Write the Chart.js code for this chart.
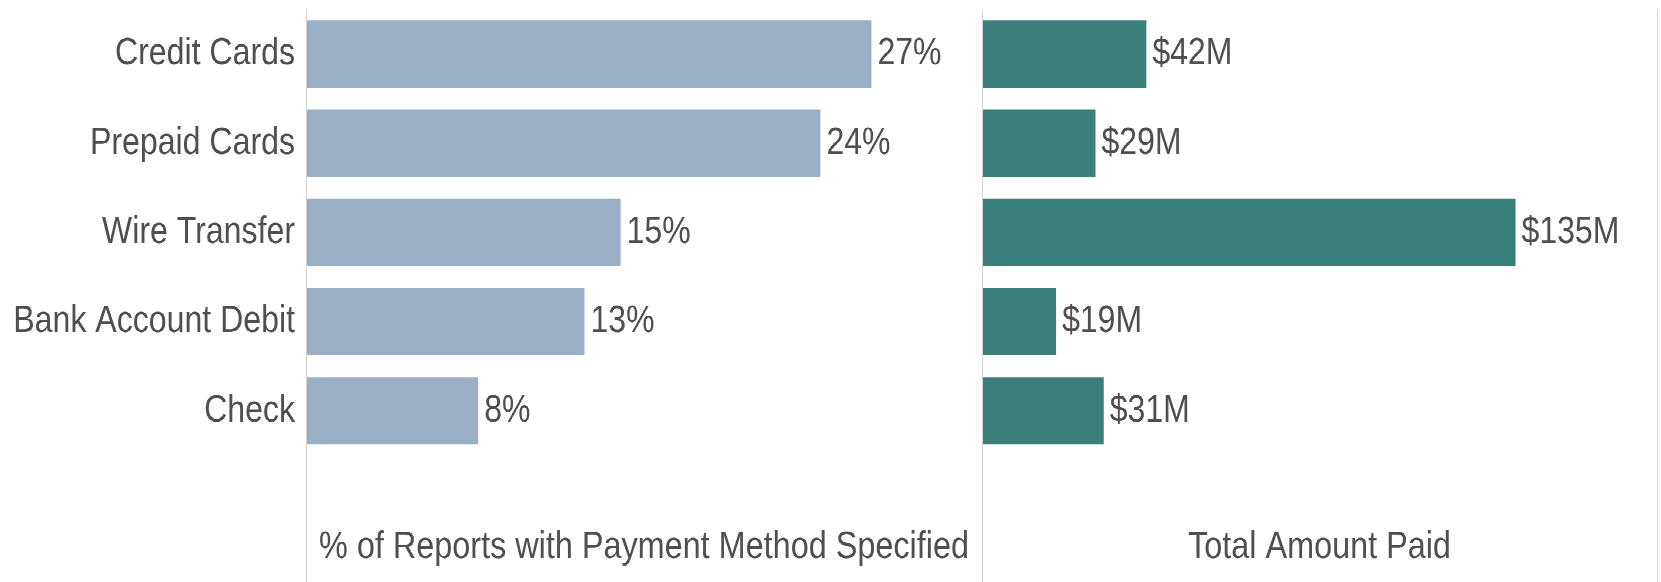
<!DOCTYPE html>
<html>
<head>
<meta charset="utf-8">
<script src="https://cdn.jsdelivr.net/npm/chart.js@4.4.1/dist/chart.umd.min.js"></script>
<style>
  html { overflow: hidden; }
  html, body { margin: 0; padding: 0; background: #fff; }
  body { width: 1661px; height: 582px; }
  /* the source picture is stretched vertically, so the whole stage is too */
  #stage { position: relative; width: 1661px; height: 497px; transform: scaleY(1.171); transform-origin: 0 0; }
  #boxA { position: absolute; left: 0; top: 0; width: 982px; height: 497px; }
  #boxB { position: absolute; left: 982px; top: 0; width: 679px; height: 497px; }
</style>
</head>
<body>
<div id="stage">
  <div id="boxA"><canvas id="chartA"></canvas></div>
  <div id="boxB"><canvas id="chartB"></canvas></div>
</div>
<script>
const methods = ["Credit Cards", "Prepaid Cards", "Wire Transfer", "Bank Account Debit", "Check"];
const pctReports = [26.6, 24.2, 14.8, 13.1, 8.1];    // % of reports
const amountPaid = [41.7, 28.8, 135.4, 18.8, 30.9];  // $ millions
const pctMax = 31.8;
const amountMax = 171.3;

const FONT = "'Liberation Sans', Arial, sans-serif";
const TEXT = "#4f4f4f";
const LINE = "#d4d4d4";

// value labels at the end of each bar
function barLabels(fmt) {
  return {
    id: "barLabels",
    afterDatasetsDraw(chart) {
      const ctx = chart.ctx;
      const meta = chart.getDatasetMeta(0);
      const vals = chart.data.datasets[0].data;
      ctx.save();
      ctx.font = "32px " + FONT;
      ctx.fillStyle = TEXT;
      ctx.textAlign = "left";
      ctx.textBaseline = "middle";
      meta.data.forEach((bar, i) => {
        ctx.fillText(fmt(vals[i]), bar.x + 6, bar.y);
      });
      ctx.restore();
    }
  };
}

// thin panel dividers running down to the bottom of the canvas
function panelLines(edges) {
  return {
    id: "panelLines",
    afterDatasetsDraw(chart) {
      const { ctx, chartArea } = chart;
      ctx.save();
      ctx.strokeStyle = LINE;
      ctx.lineWidth = 1;
      edges.forEach(e => {
        const x = Math.round(chartArea[e]) + 0.5;
        ctx.beginPath();
        ctx.moveTo(x, chartArea.top);
        ctx.lineTo(x, chart.height);
        ctx.stroke();
      });
      ctx.restore();
    }
  };
}

function xAxis(max, title) {
  return {
    min: 0,
    max: max,
    ticks: { display: false },
    grid: { display: false, drawTicks: false },
    border: { display: false },
    title: {
      display: true,
      text: title,
      color: TEXT,
      font: { family: FONT, size: 32.4, lineHeight: 1.2 },
      padding: { top: 0, bottom: 9.8 }
    },
    afterFit(s) { s.height = 108; }
  };
}

const common = {
  indexAxis: "y",
  responsive: true,
  maintainAspectRatio: false,
  animation: false,
  devicePixelRatio: 2,
  plugins: { legend: { display: false }, tooltip: { enabled: false } }
};

new Chart(document.getElementById("chartA"), {
  type: "bar",
  data: {
    labels: methods,
    datasets: [{
      data: pctReports,
      backgroundColor: "#98afc5",
      categoryPercentage: 1,
      barPercentage: 0.755
    }]
  },
  options: {
    ...common,
    layout: { padding: { top: 8.3, left: 0, right: 0, bottom: 0 } },
    scales: {
      x: xAxis(pctMax, "% of Reports with Payment Method Specified"),
      y: {
        ticks: { color: TEXT, font: { family: FONT, size: 32.1 }, padding: 11 },
        grid: { display: false, drawTicks: false },
        border: { display: false },
        afterFit(s) {
          s.width = 306;
          s.paddingTop = 0;
          s.paddingBottom = 0;
        }
      }
    }
  },
  plugins: [barLabels(v => Math.round(v) + "%"), panelLines(["left"])]
});

new Chart(document.getElementById("chartB"), {
  type: "bar",
  data: {
    labels: methods,
    datasets: [{
      data: amountPaid,
      backgroundColor: "#3b7f7b",
      categoryPercentage: 1,
      barPercentage: 0.755
    }]
  },
  options: {
    ...common,
    layout: { padding: { top: 8.3, left: 0, right: 4, bottom: 0 } },
    scales: {
      x: xAxis(amountMax, "Total Amount Paid"),
      y: { display: false }
    }
  },
  plugins: [barLabels(v => "$" + Math.round(v) + "M"), panelLines(["left", "right"])]
});
</script>
</body>
</html>
